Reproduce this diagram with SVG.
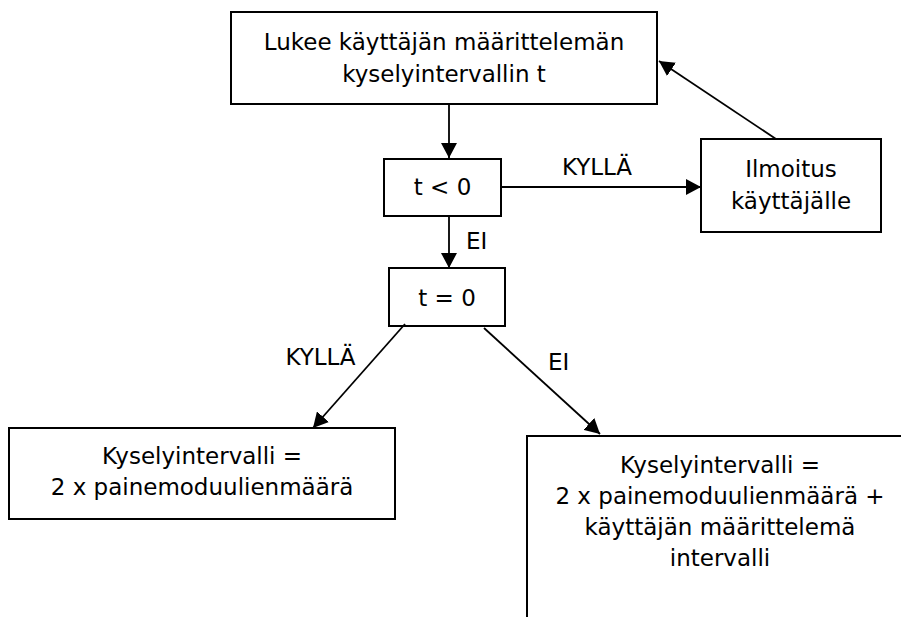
<svg xmlns="http://www.w3.org/2000/svg" width="901" height="617" viewBox="0 0 901 617">
  <style>
    .box { fill: #ffffff; stroke: #000000; stroke-width: 2; }
    .txt { font-family: "DejaVu Sans", Verdana, sans-serif; font-size: 23px; fill: #000000; text-anchor: middle; }
    .lbl { font-family: "DejaVu Sans", Verdana, sans-serif; font-size: 23px; fill: #000000; }
    .edge { fill: none; stroke: #000000; stroke-width: 1.8; marker-end: url(#arrow); }
  </style>
  <defs>
    <marker id="arrow" markerUnits="userSpaceOnUse" markerWidth="16" markerHeight="16" refX="15" refY="8" orient="auto">
      <path d="M0,0 L15,8 L0,16 Z" fill="#000000"/>
    </marker>
  </defs>
  <rect width="901" height="617" fill="#ffffff"/>

  <g id="read-interval">
    <rect class="box" x="231" y="12" width="426" height="92"/>
    <text class="txt" x="444" y="49.5">Lukee käyttäjän määrittelemän</text>
    <text class="txt" x="444" y="81.5">kyselyintervallin t</text>
  </g>

  <g id="check-negative">
    <rect class="box" x="384" y="159" width="117" height="57"/>
    <text class="txt" x="442.5" y="195">t &lt; 0</text>
  </g>

  <g id="notify-user">
    <rect class="box" x="701" y="139" width="180" height="93"/>
    <text class="txt" x="791" y="177">Ilmoitus</text>
    <text class="txt" x="791" y="209">käyttäjälle</text>
  </g>

  <g id="check-zero">
    <rect class="box" x="389" y="268" width="116" height="58"/>
    <text class="txt" x="447" y="306">t = 0</text>
  </g>

  <g id="default-interval">
    <rect class="box" x="9" y="428" width="386" height="91"/>
    <text class="txt" x="202" y="464">Kyselyintervalli =</text>
    <text class="txt" x="202" y="495">2 x painemoduulienmäärä</text>
  </g>

  <g id="user-interval">
    <rect class="box" x="527" y="436" width="386" height="200"/>
    <text class="txt" x="720" y="473">Kyselyintervalli =</text>
    <text class="txt" x="720" y="504">2 x painemoduulienmäärä +</text>
    <text class="txt" x="720" y="535">käyttäjän määrittelemä</text>
    <text class="txt" x="720" y="566">intervalli</text>
  </g>

  <g id="connectors">
    <line class="edge" x1="449" y1="104" x2="449" y2="158"/>
    <line class="edge" x1="449" y1="216" x2="449" y2="268"/>
    <line class="edge" x1="501" y1="187" x2="701" y2="187"/>
    <line class="edge" x1="776" y1="139" x2="659" y2="61"/>
    <line class="edge" x1="405" y1="324" x2="313" y2="428"/>
    <line class="edge" x1="484" y1="328" x2="600" y2="434"/>
    <text class="lbl" x="466" y="249">EI</text>
    <text class="lbl" x="597" y="175" text-anchor="middle">KYLLÄ</text>
    <text class="lbl" x="320.5" y="365" text-anchor="middle">KYLLÄ</text>
    <text class="lbl" x="548" y="370">EI</text>
  </g>
</svg>
